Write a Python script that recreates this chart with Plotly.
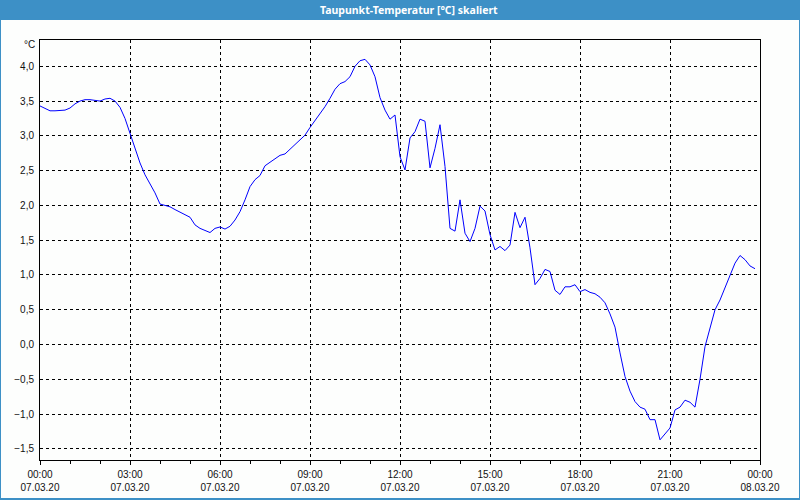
import pandas as pd
import plotly.graph_objects as go

# 10-minute readings, 07.03.2020 00:00 .. 23:50
times = pd.date_range("2020-03-07 00:00", periods=144, freq="10min")

dewpoint = [
    3.43, 3.39, 3.36, 3.36, 3.36, 3.37, 3.40, 3.46, 3.50, 3.52, 3.52, 3.51,
    3.50, 3.53, 3.54, 3.50, 3.41, 3.25, 3.04, 2.85, 2.61, 2.44, 2.32, 2.18,
    2.02, 2.00, 1.98, 1.94, 1.90, 1.87, 1.83, 1.72, 1.67, 1.64, 1.61, 1.67,
    1.69, 1.66, 1.70, 1.79, 1.91, 2.08, 2.27, 2.37, 2.43, 2.57, 2.62, 2.68,
    2.72, 2.74, 2.81, 2.88, 2.94, 3.01, 3.12, 3.22, 3.33, 3.42, 3.54, 3.67,
    3.75, 3.78, 3.85, 4.00, 4.08, 4.10, 4.02, 3.85, 3.55, 3.37, 3.24, 3.30,
    2.70, 2.51, 2.97, 3.06, 3.24, 3.21, 2.54, 2.82, 3.16, 2.56, 1.67, 1.63,
    2.08, 1.60, 1.48, 1.67, 1.99, 1.92, 1.58, 1.36, 1.41, 1.35, 1.43, 1.90,
    1.68, 1.83, 1.39, 0.86, 0.95, 1.08, 1.05, 0.78, 0.72, 0.83, 0.83, 0.86,
    0.76, 0.79, 0.75, 0.73, 0.68, 0.60, 0.44, 0.25, -0.12, -0.46, -0.67, -0.82,
    -0.90, -0.93, -1.08, -1.08, -1.37, -1.29, -1.20, -0.94, -0.90, -0.80, -0.83, -0.90,
    -0.50, -0.03, 0.25, 0.50, 0.64, 0.81, 0.98, 1.17, 1.28, 1.22, 1.13, 1.09,
]

title_text = "Taupunkt-Temperatur [°C] skaliert"
unit_text = "°C"

W, H = 800, 500
L, R, T, B = 40, 40, 40, 40
PW, PH = W - L - R, H - T - B
BAR = "#3d90c6"


def px(x):
    return (x - L) / PW


def py(y):
    return (H - B - y) / PH


fig = go.Figure()

fig.add_trace(go.Scatter(
    x=times,
    y=dewpoint,
    mode="lines",
    line=dict(color="#0000ff", width=1),
    hoverinfo="x+y",
    showlegend=False,
))

shapes = [
    # title bar
    dict(type="rect", xref="paper", yref="paper",
         x0=px(0), x1=px(W), y0=py(0), y1=py(20),
         fillcolor=BAR, line_width=0, layer="above"),
    # window frame (left, right, bottom)
    dict(type="line", xref="paper", yref="paper",
         x0=px(0.5), x1=px(0.5), y0=py(20), y1=py(H),
         line=dict(color=BAR, width=1)),
    dict(type="line", xref="paper", yref="paper",
         x0=px(W - 0.5), x1=px(W - 0.5), y0=py(20), y1=py(H),
         line=dict(color=BAR, width=1)),
    dict(type="line", xref="paper", yref="paper",
         x0=px(0), x1=px(W), y0=py(H - 1), y1=py(H - 1),
         line=dict(color=BAR, width=2)),
]

fig.update_layout(
    width=W, height=H,
    margin=dict(l=L, r=R, t=T, b=B),
    paper_bgcolor="#fdfefd",
    plot_bgcolor="#fdfefd",
    separators=",.",
    font=dict(family="Liberation Sans", size=10, color="#111111"),
    shapes=shapes,
    annotations=[
        dict(text="<b>" + title_text + "</b>", xref="paper", yref="paper",
             x=px(W / 2 + 9), y=py(10), showarrow=False,
             xanchor="center", yanchor="middle",
             font=dict(family="Noto Sans", size=10.5, color="white")),
        dict(text=unit_text, xref="paper", yref="paper",
             x=px(37), y=py(45), showarrow=False,
             xanchor="right", yanchor="middle",
             font=dict(family="Liberation Sans", size=10, color="#111111")),
    ],
    xaxis=dict(
        range=["2020-03-07 00:00", "2020-03-08 00:00"],
        tick0="2020-03-07 00:00",
        dtick=3 * 3600 * 1000,
        tickformat="%H:%M<br>%d.%m.%y",
        ticks="outside", ticklen=4, tickcolor="black",
        minor=dict(dtick=3600 * 1000, ticks="outside", ticklen=3,
                   tickcolor="black", showgrid=False),
        showline=True, linecolor="black", linewidth=1, mirror=True,
        showgrid=True, gridcolor="black", gridwidth=1, griddash="3px,3px",
        zeroline=False,
        ticklabelstandoff=1,
        automargin=False,
    ),
    yaxis=dict(
        range=[-1.66, 4.378],
        tickvals=[-1.5, -1.0, -0.5, 0.0, 0.5, 1.0, 1.5, 2.0, 2.5, 3.0, 3.5, 4.0],
        tickformat=".1f",
        ticks="",
        showline=True, linecolor="black", linewidth=1, mirror=True,
        showgrid=True, gridcolor="black", gridwidth=1, griddash="3px,3px",
        zeroline=False,
        ticklabelstandoff=3,
        automargin=False,
    ),
)

# drop the browser's default body margin so the chart sits at the page corner
fig.write_html(
    "out.html",
    config={"displayModeBar": False},
    post_script="document.body.style.margin='0';",
)
